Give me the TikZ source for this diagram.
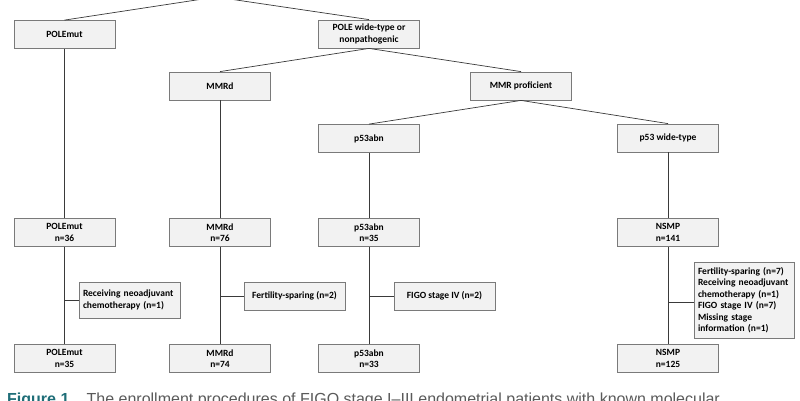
\documentclass[tikz,border=0pt]{standalone}
\usepackage{fontspec}
\setmainfont{Carlito}
\newfontfamily\capfont{Liberation Sans}
\definecolor{boxfill}{HTML}{F2F2F2}
\definecolor{boxborder}{HTML}{7A7A7A}
\definecolor{linecol}{HTML}{3A3A3A}
\definecolor{capteal}{HTML}{1F6E78}
\definecolor{capgray}{HTML}{5A5A5A}
\tikzset{
  box/.style={draw=boxborder, fill=boxfill, line width=0.8pt,
    minimum width=101pt, minimum height=28pt, inner sep=0pt, align=center,
    font=\bfseries\fontsize{9.5}{11.5}\selectfont},
  exbox/.style={box, align=left, inner xsep=4pt, text width=93pt},
  conn/.style={draw=linecol, line width=0.7pt}
}
\begin{document}
\begin{tikzpicture}[x=1pt,y=-1pt]
\useasboundingbox (0,0) rectangle (800,400);
\clip (0,0) rectangle (800,400);
\fill[white] (0,0) rectangle (800,400);
\coordinate (root) at (216,-3);
% level 1
\node[box] (pm1) at (64.5,34.5) {POLEmut};
\node[box] (pw) at (369,34) {POLE wide-type or\\nonpathogenic};
% level 2
\node[box] (mmrd1) at (220,86) {MMRd};
\node[box] (mmrp) at (521,86) {MMR proficient};
% level 3
\node[box] (p53a1) at (369,138.5) {p53abn};
\node[box] (p53w) at (668,138) {p53 wide-type};
% counts
\node[box] (pm2) at (64.5,232.5) {POLEmut\\n=36};
\node[box] (mmrd2) at (220,232.5) {MMRd\\n=76};
\node[box] (p53a2) at (369,232.5) {p53abn\\n=35};
\node[box] (nsmp2) at (668,232.5) {NSMP\\n=141};
% final
\node[box] (pm3) at (64.5,358.5) {POLEmut\\n=35};
\node[box] (mmrd3) at (220,358.5) {MMRd\\n=74};
\node[box] (p53a3) at (369,358.5) {p53abn\\n=33};
\node[box] (nsmp3) at (668,358.5) {NSMP\\n=125};
% exclusions
\node[exbox, minimum height=36pt] (ex1) at (129.5,300) {Receiving neoadjuvant\\chemotherapy (n=1)};
\node[box] (ex2) at (294.5,296) {Fertility-sparing (n=2)};
\node[box] (ex3) at (444.5,296) {FIGO stage IV (n=2)};
\node[exbox, minimum width=100pt, text width=92pt, minimum height=76pt] (ex4) at (744,300) {Fertility-sparing (n=7)\\Receiving neoadjuvant\\chemotherapy (n=1)\\FIGO stage IV (n=7)\\Missing stage\\information (n=1)};
% tree connectors
\draw[conn] (root) -- (pm1.north);
\draw[conn] (root) -- (pw.north);
\draw[conn] (pw.south) -- (mmrd1.north);
\draw[conn] (pw.south) -- (mmrp.north);
\draw[conn] (mmrp.south) -- (p53a1.north);
\draw[conn] (mmrp.south) -- (p53w.north);
% verticals
\draw[conn] (pm1.south) -- (pm2.north);
\draw[conn] (mmrd1.south) -- (mmrd2.north);
\draw[conn] (p53a1.south) -- (p53a2.north);
\draw[conn] (p53w.south) -- (nsmp2.north);
\draw[conn] (pm2.south) -- (pm3.north);
\draw[conn] (mmrd2.south) -- (mmrd3.north);
\draw[conn] (p53a2.south) -- (p53a3.north);
\draw[conn] (nsmp2.south) -- (nsmp3.north);
% exclusion links
\draw[conn] (ex1.west) -- (ex1.west -| pm2.south);
\draw[conn] (ex2.west) -- (ex2.west -| mmrd2.south);
\draw[conn] (ex3.west) -- (ex3.west -| p53a2.south);
\draw[conn] ([yshift=-2pt]ex4.west) -- ([yshift=-2pt]ex4.west -| nsmp2.south);
% caption (cut off by the frame, as in the reference)
\node[anchor=base west, inner sep=0pt, font=\capfont\fontsize{16}{18}\selectfont] (cap) at (7,404.5)
  {\textcolor{capteal}{\bfseries Figure 1.}\hspace{0.8em}\textcolor{capgray}{The enrollment procedures of FIGO stage I–III endometrial patients with known molecular}};
\end{tikzpicture}
\end{document}
